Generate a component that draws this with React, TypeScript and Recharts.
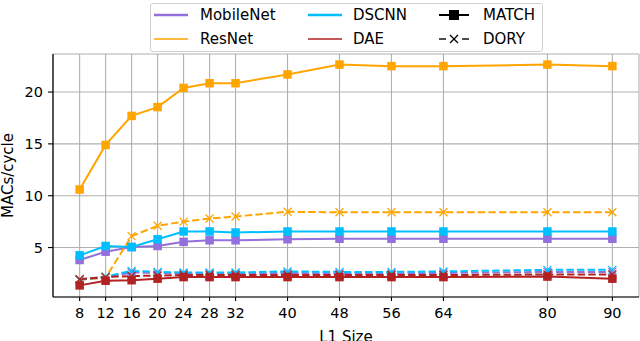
import React from "react";
import { LineChart, Line, XAxis, YAxis, CartesianGrid, Label } from "recharts";

const l1Sizes = [8, 12, 16, 20, 24, 28, 32, 40, 48, 56, 64, 80, 90];
const xTicks = [8, 12, 16, 20, 24, 28, 32, 40, 48, 56, 64, 80, 90];
const yTicks = [5, 10, 15, 20];

// MATCH (solid, squares)
const mobilenetMatch = [3.8, 4.6, 5.05, 5.15, 5.55, 5.7, 5.7, 5.8, 5.85, 5.85, 5.85, 5.85, 5.85];
const resnetMatch = [10.6, 14.9, 17.7, 18.55, 20.4, 20.85, 20.85, 21.7, 22.65, 22.5, 22.5, 22.65, 22.5];
const dscnnMatch = [4.25, 5.15, 5.05, 5.8, 6.55, 6.55, 6.45, 6.55, 6.55, 6.55, 6.55, 6.55, 6.55];
const daeMatch = [1.35, 1.8, 1.85, 2.0, 2.15, 2.15, 2.15, 2.15, 2.15, 2.15, 2.15, 2.2, 2.0];

// DORY (dashed, x markers)
const mobilenetDory = [1.9, 2.1, 2.6, 2.55, 2.5, 2.5, 2.5, 2.55, 2.5, 2.5, 2.55, 2.65, 2.65];
const resnetDory = [1.9, 2.1, 6.1, 7.1, 7.5, 7.8, 8.0, 8.45, 8.4, 8.4, 8.4, 8.4, 8.4];
const dscnnDory = [1.9, 2.2, 2.75, 2.65, 2.6, 2.6, 2.6, 2.7, 2.65, 2.65, 2.7, 2.85, 2.85];
const daeDory = [1.95, 2.15, 2.25, 2.3, 2.35, 2.35, 2.35, 2.35, 2.35, 2.35, 2.35, 2.4, 2.4];

const COLORS = {
  mobilenet: "#9370db",
  resnet: "#ffa500",
  dscnn: "#00bfff",
  dae: "#b22222",
};

const data = l1Sizes.map((size, i) => ({
  size,
  mobilenetMatch: mobilenetMatch[i],
  mobilenetDory: mobilenetDory[i],
  resnetMatch: resnetMatch[i],
  resnetDory: resnetDory[i],
  dscnnMatch: dscnnMatch[i],
  dscnnDory: dscnnDory[i],
  daeMatch: daeMatch[i],
  daeDory: daeDory[i],
}));

const series = [
  { key: "mobilenet", color: COLORS.mobilenet },
  { key: "resnet", color: COLORS.resnet },
  { key: "dscnn", color: COLORS.dscnn },
  { key: "dae", color: COLORS.dae },
];

const FONT = "'DejaVu Sans', sans-serif";

const squareDot = (color: string) => (p: any) => {
  const s = 8.5;
  return <rect key={`sq-${p.index}`} x={p.cx - s / 2} y={p.cy - s / 2} width={s} height={s} fill={color} />;
};

const xDot = (color: string) => (p: any) => {
  const h = 4;
  return (
    <g key={`x-${p.index}`} stroke={color} strokeWidth={1.3}>
      <line x1={p.cx - h} y1={p.cy - h} x2={p.cx + h} y2={p.cy + h} />
      <line x1={p.cx - h} y1={p.cy + h} x2={p.cx + h} y2={p.cy - h} />
    </g>
  );
};

const YLabel = (props: any) => {
  const vb = props.viewBox;
  const x = vb.x + 13;
  const y = vb.y + vb.height / 2;
  return (
    <text x={x} y={y} transform={`rotate(-90 ${x} ${y})`} textAnchor="middle" fontSize={15} fontFamily={FONT} fill="#000">
      MACs/cycle
    </text>
  );
};

const XLabel = (props: any) => {
  const vb = props.viewBox;
  return (
    <text x={vb.x + vb.width / 2} y={vb.y + vb.height + 1} textAnchor="middle" fontSize={15} fontFamily={FONT} fill="#000">
      L1 Size
    </text>
  );
};

function LegendLine({ color, width }: { color: string; width: number }) {
  return (
    <svg width={36} height={12} style={{ position: "absolute", left: 0, top: -6 }}>
      <line x1={1} y1={6} x2={35} y2={6} stroke={color} strokeWidth={width} />
    </svg>
  );
}

function LegendBox() {
  const item = (left: number, top: number, handle: React.ReactNode, text: string, textLeft: number) => (
    <div style={{ position: "absolute", left, top }}>
      {handle}
      <span style={{ position: "absolute", left: textLeft, top: -9, whiteSpace: "nowrap", lineHeight: "18px" }}>{text}</span>
    </div>
  );
  return (
    <div
      style={{
        position: "absolute",
        left: 150,
        top: 3,
        width: 393,
        height: 49,
        border: "1px solid #d0d0d0",
        borderRadius: 3,
        background: "rgba(255,255,255,0.85)",
        fontFamily: FONT,
        fontSize: 15,
        color: "#000",
        boxSizing: "border-box",
      }}
    >
      {item(2, 11, <LegendLine color={COLORS.mobilenet} width={2.7} />, "MobileNet", 47)}
      {item(2, 35, <LegendLine color={COLORS.resnet} width={1.4} />, "ResNet", 47)}
      {item(156, 11, <LegendLine color={COLORS.dscnn} width={2.7} />, "DSCNN", 46)}
      {item(156, 35, <LegendLine color={COLORS.dae} width={1.4} />, "DAE", 46)}
      {item(
        287,
        11,
        <svg width={32} height={14} style={{ position: "absolute", left: 0, top: -7 }}>
          <line x1={1} y1={7} x2={31} y2={7} stroke="#000" strokeWidth={2} />
          <rect x={11} y={2} width={10} height={10} fill="#000" />
        </svg>,
        "MATCH",
        45
      )}
      {item(
        287,
        35,
        <svg width={32} height={14} style={{ position: "absolute", left: 0, top: -7 }}>
          <line x1={1} y1={7} x2={8} y2={7} stroke="#000" strokeWidth={1.4} />
          <line x1={24} y1={7} x2={31} y2={7} stroke="#000" strokeWidth={1.4} />
          <line x1={12} y1={3} x2={20} y2={11} stroke="#000" strokeWidth={1.3} />
          <line x1={12} y1={11} x2={20} y2={3} stroke="#000" strokeWidth={1.3} />
        </svg>,
        "DORY",
        45
      )}
    </div>
  );
}

export default function App() {
  return (
    <div style={{ position: "absolute", left: 0, top: 0, width: 640, height: 341, background: "#fff", fontFamily: FONT }}>
      <LineChart width={640} height={341} data={data} margin={{ top: 54, right: 1, bottom: 0, left: 0 }}>
        <CartesianGrid stroke="#b0b0b0" strokeWidth={1.1} />
        <XAxis
          dataKey="size"
          type="number"
          domain={[3.9, 94.1]}
          ticks={xTicks}
          interval={0}
          allowDataOverflow
          height={44}
          tick={{ fontSize: 14.5, fill: "#000", fontFamily: FONT }}
          tickSize={4}
          tickMargin={7}
          tickLine={{ stroke: "#000", strokeWidth: 1.1 }}
          axisLine={{ stroke: "#000", strokeWidth: 1.2 }}
          label={<Label content={XLabel} />}
        />
        <XAxis
          xAxisId="top"
          orientation="top"
          type="number"
          domain={[3.9, 94.1]}
          height={0}
          tick={false}
          tickLine={false}
          axisLine={{ stroke: "#000", strokeWidth: 1.2 }}
        />
        <YAxis
          type="number"
          domain={[0.23, 23.67]}
          ticks={yTicks}
          allowDataOverflow
          width={53}
          tick={{ fontSize: 14.5, fill: "#000", fontFamily: FONT }}
          tickSize={5}
          tickMargin={5}
          tickLine={{ stroke: "#000", strokeWidth: 1.1 }}
          axisLine={{ stroke: "#000", strokeWidth: 1.2 }}
          label={<Label content={YLabel} />}
        />
        <YAxis
          yAxisId="right"
          orientation="right"
          type="number"
          domain={[0.23, 23.67]}
          width={0}
          tick={false}
          tickLine={false}
          axisLine={{ stroke: "#000", strokeWidth: 1.2 }}
        />
        {series.flatMap((s) => [
          <Line
            key={`${s.key}Match`}
            type="linear"
            dataKey={`${s.key}Match`}
            stroke={s.color}
            strokeWidth={2}
            dot={squareDot(s.color)}
            activeDot={false}
            isAnimationActive={false}
          />,
          <Line
            key={`${s.key}Dory`}
            type="linear"
            dataKey={`${s.key}Dory`}
            stroke={s.color}
            strokeWidth={2}
            strokeDasharray="7.4 3.2"
            dot={xDot(s.color)}
            activeDot={false}
            isAnimationActive={false}
          />,
        ])}
      </LineChart>
      <LegendBox />
    </div>
  );
}
